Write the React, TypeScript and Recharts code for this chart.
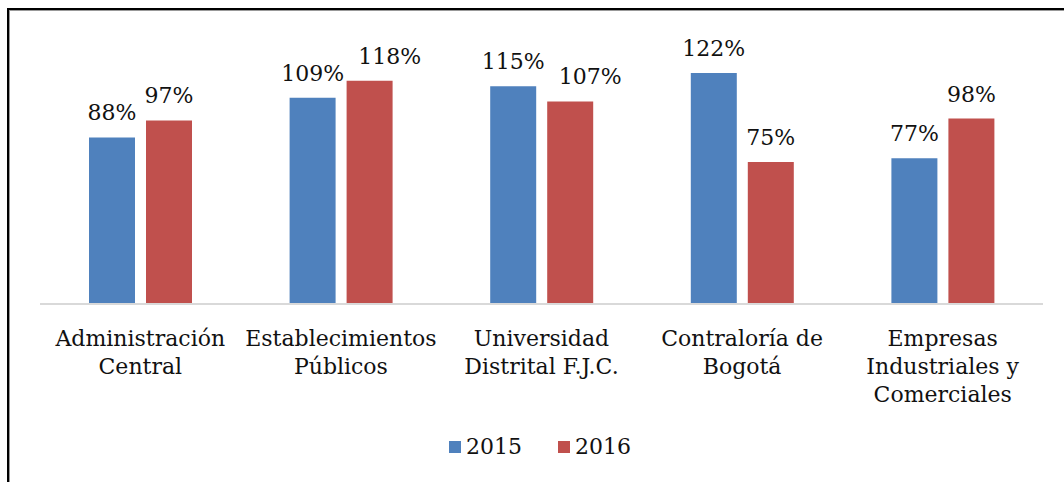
import { BarChart, Bar, XAxis, YAxis, LabelList, Legend } from "recharts";

const categories = [
  "Administración\nCentral",
  "Establecimientos\nPúblicos",
  "Universidad\nDistrital F.J.C.",
  "Contraloría de\nBogotá",
  "Empresas\nIndustriales y\nComerciales"
];
const values2015 = [88, 109, 115, 122, 77];
const values2016 = [97, 118, 107, 75, 98];
const seriesNames = ["2015", "2016"];
const colors = ["#4F81BD", "#C0504D"];

const data = categories.map((name, i) => ({
  name,
  y2015: values2015[i],
  y2016: values2016[i]
}));

const font = "'DejaVu Serif', serif";
const textColor = "#111";
const barSize = 46;
const barGap = 11;

// rough width of a "NN%" label at 22px
const labelWidth = (v: number) => String(v).length * 14 + 21;

// value label above a bar; the 2016 label is nudged right when it would
// collide with the 2015 label beside it (as the original chart does)
function makeValueLabel(series: "2015" | "2016") {
  return function ValueLabel({ x, y, width, value, index }: any) {
    let dx = 0;
    if (series === "2016") {
      const other = values2015[index];
      const overlapX = (labelWidth(other) + labelWidth(value)) / 2 > barSize + barGap;
      const overlapY = Math.abs(other - value) < 12;
      if (overlapX && overlapY) dx = 20;
    }
    return (
      <text
        x={x + width / 2 + dx}
        y={y - 17}
        textAnchor="middle"
        fontFamily={font}
        fontSize={22}
        fill={textColor}
      >
        {`${value}%`}
      </text>
    );
  };
}

const Label2015 = makeValueLabel("2015");
const Label2016 = makeValueLabel("2016");

function CategoryTick({ x, y, payload }: any) {
  const lines = String(payload.value).split("\n");
  return (
    <text x={x} y={y} textAnchor="middle" fontFamily={font} fontSize={22} fill={textColor}>
      {lines.map((line, i) => (
        <tspan key={i} x={x} dy={i === 0 ? 34 : 28}>
          {line}
        </tspan>
      ))}
    </text>
  );
}

function LegendContent() {
  return (
    <div style={{ display: "flex", justifyContent: "center", alignItems: "center", fontFamily: font, fontSize: 22, color: textColor }}>
      {seriesNames.map((s, i) => (
        <span key={s} style={{ display: "flex", alignItems: "center", marginLeft: i === 0 ? 0 : 36 }}>
          <span style={{ width: 12, height: 12, background: colors[i], marginRight: 5 }} />
          {s}
        </span>
      ))}
    </div>
  );
}

export default function App() {
  return (
    <div style={{ position: "absolute", left: 0, top: 0, width: 1064, height: 482, background: "#fff" }}>
      <div
        style={{
          position: "absolute",
          left: 7,
          top: 8,
          width: 1100,
          height: 500,
          borderTop: "2px solid #000",
          borderLeft: "2px solid #000",
          boxShadow: "inset 1px 1px 0 #999"
        }}
      />
      <BarChart
        width={1064}
        height={482}
        data={data}
        margin={{ top: 39, right: 21, bottom: 118, left: 40 }}
        barSize={barSize}
        barGap={barGap}
      >
        <XAxis
          dataKey="name"
          height={60}
          interval={0}
          tickLine={false}
          axisLine={{ stroke: "#d9d9d9", strokeWidth: 2 }}
          tick={<CategoryTick />}
        />
        <YAxis hide domain={[0, 140]} />
        <Legend
          layout="horizontal"
          verticalAlign="middle"
          align="center"
          content={<LegendContent />}
          wrapperStyle={{ top: 434, left: 8, width: 1064 }}
        />
        <Bar dataKey="y2015" name={seriesNames[0]} fill={colors[0]} isAnimationActive={false}>
          <LabelList dataKey="y2015" content={<Label2015 />} />
        </Bar>
        <Bar dataKey="y2016" name={seriesNames[1]} fill={colors[1]} isAnimationActive={false}>
          <LabelList dataKey="y2016" content={<Label2016 />} />
        </Bar>
      </BarChart>
    </div>
  );
}
